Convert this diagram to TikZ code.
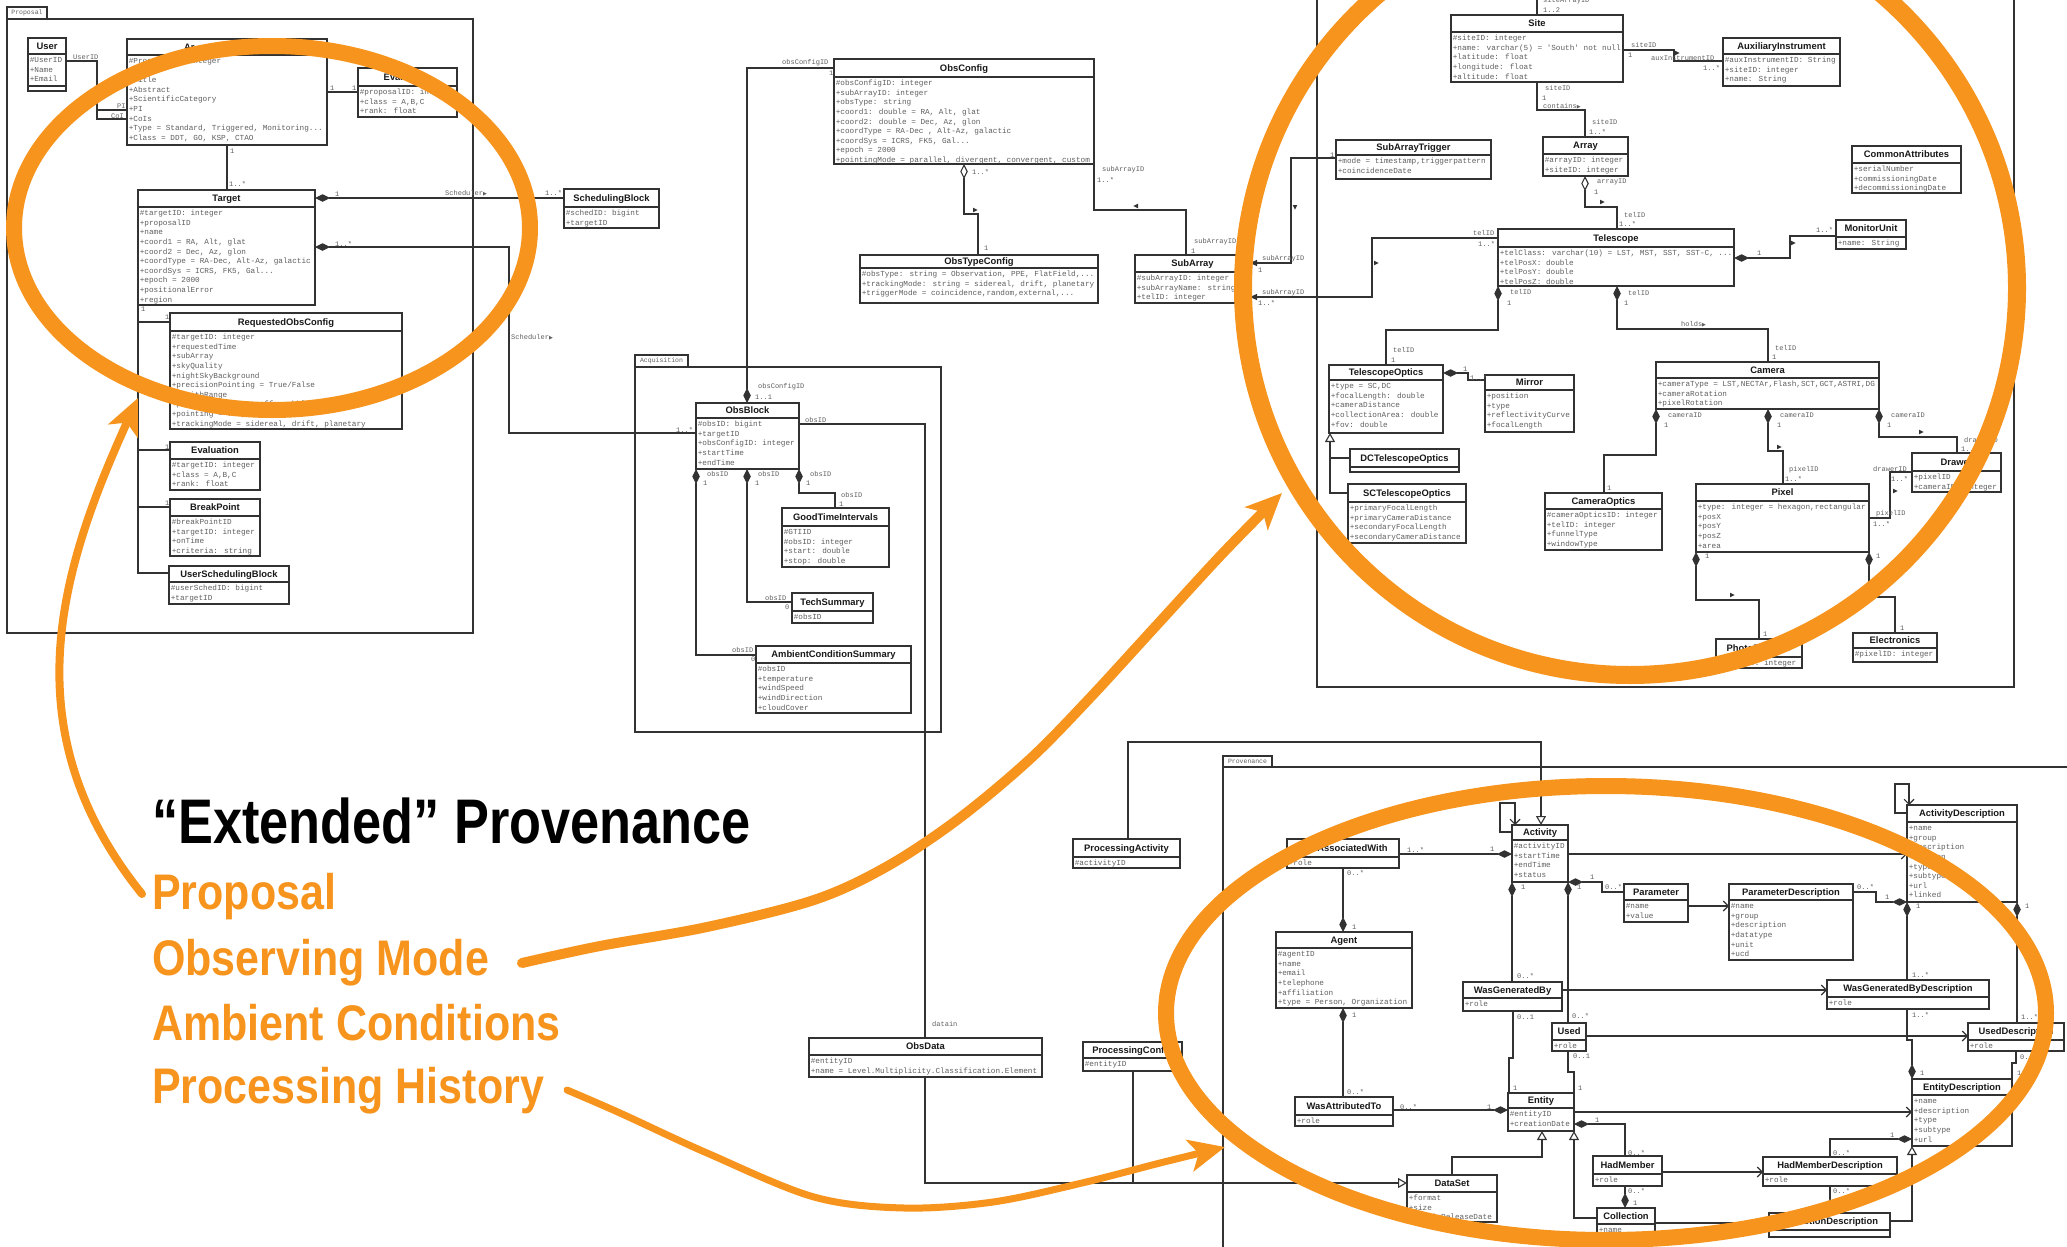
\documentclass[tikz,border=0pt]{standalone}
\usepackage{fontspec}
\usetikzlibrary{arrows.meta,calc}
\newfontfamily\clsfont{Liberation Sans}
\newfontfamily\attfont{Liberation Mono}
\newfontfamily\headfont[FakeStretch=0.83]{Liberation Sans}
\newfontfamily\notefont[FakeStretch=0.86]{Liberation Sans}
\newfontfamily\glyphfont{DejaVu Sans}
\definecolor{hilite}{RGB}{247,148,29}
\definecolor{umlline}{RGB}{50,50,50}
\definecolor{umltext}{RGB}{95,95,95}

\newcommand\navglyph{{\glyphfont\fontsize{5}{5}\selectfont ▶}}
\newcommand\ddd{.\kern0pt.\kern0pt.}
\newcount\labno
\newcommand\lab[3]{\global\advance\labno by 1\relax
  \node[lab] (lab\the\labno) at (#1,#2) {#3};}
% small association-direction markers
\newcommand\mkR[2]{\fill[umlline] (#1+2.6,#2) -- (#1-2,#2-2.3) -- (#1-2,#2+2.3) -- cycle;}
\newcommand\mkL[2]{\fill[umlline] (#1-2.6,#2) -- (#1+2,#2-2.3) -- (#1+2,#2+2.3) -- cycle;}
\newcommand\mkD[2]{\fill[umlline] (#1,#2+2.6) -- (#1-2.3,#2-2) -- (#1+2.3,#2-2) -- cycle;}
% UML class: name, x1, y1, x2, y2, y of title rule, title, attributes
\newcommand\uclass[8]{%
  \node[classbox, minimum width={(#4)-(#2)}, minimum height={(#5)-(#3)}] (#1) at ({((#2)+(#4))/2},{((#3)+(#5))/2}) {};
  \draw[boxline] (#1.west |- 0,#6) -- (#1.east |- 0,#6);
  \node[ctitle] (#1-t) at ({((#2)+(#4))/2},{((#3)+(#6))/2+3.4}) {#7};
  \foreach \a [count=\i] in {#8} {\node[attr] (#1-a\i) at ({(#2)+1.6},{(#6)+8.6+(\i-1)*9.6}) {\a};}%
}

\tikzset{
  classbox/.style={draw=umlline, line width=1.3pt, fill=white, rectangle, inner sep=0pt, outer sep=0pt},
  boxline/.style={draw=umlline, line width=1.2pt},
  ctitle/.style={font=\clsfont\bfseries\fontsize{9.4}{10}\selectfont, text=black!90, inner sep=0pt, anchor=base},
  attr/.style={font=\attfont\fontsize{7.7}{8}\selectfont, text=umltext, inner sep=0pt, anchor=base west},
  lab/.style={font=\attfont\fontsize{7}{7}\selectfont, text=umltext, inner sep=0pt, anchor=west},
  tabtext/.style={font=\attfont\fontsize{6.5}{6.5}\selectfont, text=umltext, inner sep=0pt},
  conn/.style={draw=umlline, line width=1.1pt},
  pkg/.style={draw=umlline, line width=1.2pt},
  ring/.style={draw=hilite, line width=16pt},
  hlarrow/.style={draw=hilite, line cap=round, -{Stealth[length=36pt,width=32pt,inset=9pt]}},
  note/.style={anchor=base west, inner sep=0pt, text=hilite, font=\notefont\bfseries\fontsize{50}{50}\selectfont},
  compo/.tip={Diamond[length=15pt,width=7.5pt]},
  aggr/.tip={Diamond[open,length=15pt,width=7.5pt]},
  genz/.tip={Triangle[open,length=9pt,width=10pt]},
  navi/.tip={Straight Barb[length=5pt,width=10pt]},
  navhead/.tip={Triangle[length=7pt,width=6pt]},
}

\begin{document}
\begin{tikzpicture}[x=1pt,y=-1pt]
\useasboundingbox (0,0) rectangle (2067,1247);
\fill[white] (0,0) rectangle (2067,1247);
\clip (0,0) rectangle (2067,1247);

% ---------- packages ----------
\draw[pkg] (7,7) rectangle (47,19);
\node[tabtext] (pkgProposal) at (27,13) {Proposal};
\draw[pkg] (7,19) rectangle (473,633);
\draw[pkg] (635,355) rectangle (688,367);
\node[tabtext] (pkgAcquisition) at (661.5,361) {Acquisition};
\draw[pkg] (635,367) rectangle (941,732);
\draw[pkg] (1317,-10) -- (1317,687) -- (2014,687) -- (2014,-10);
\draw[pkg] (1223,756) rectangle (1272,767);
\node[tabtext] (pkgProvenance) at (1247.5,761.5) {Provenance};
\draw[pkg] (2080,767) -- (1223,767) -- (1223,1260);

% ---------- classes: proposal ----------
\uclass{user}{28}{38}{66}{91}{54}{User}{\#UserID,+Name,+Email}
\draw[boxline] (user.west |- 0,86) -- (user.east |- 0,86);
\uclass{prop}{127}{39}{327}{145}{55}{}{\#ProposalID: integer,+,+Title,+Abstract,+ScientificCategory,+PI,+CoIs,{+Type = Standard, Triggered, Monitoring\ddd},{+Class = DDT, GO, KSP, CTAO}}
\node[ctitle, anchor=base west] (propname) at (184,50.5) {Ar};
\uclass{evalA}{358}{68}{457}{117}{86}{Evaluation}{\#proposalID: integer,{+class = A,B,C},+rank: float}
\uclass{target}{138}{190}{315}{305}{207}{Target}{\#targetID: integer,+proposalID,+name,{+coord1 = RA, Alt, glat},{+coord2 = Dec, Az, glon},{+coordType = RA-Dec, Alt-Az, galactic},{+coordSys = ICRS, FK5, Gal\ddd},+epoch = 2000,+positionalError,+region}
\uclass{reqobs}{170}{313}{402}{429}{331}{RequestedObsConfig}{\#targetID: integer,+requestedTime,+subArray,+skyQuality,+nightSkyBackground,+precisionPointing = True/False,+zenithRange,{+pointingMode = on-off, wobble, survey\ddd},{+pointing = \ddd, target\ddd},{+trackingMode = sidereal, drift, planetary}}
\uclass{evalB}{170}{442}{260}{490}{459}{Evaluation}{\#targetID: integer,{+class = A,B,C},+rank: float}
\uclass{breakpt}{170}{499}{260}{556}{516}{BreakPoint}{\#breakPointID,+targetID: integer,+onTime,+criteria: string}
\uclass{usersb}{169}{566}{289}{604}{582}{UserSchedulingBlock}{\#userSchedID: bigint,+targetID}
\uclass{schedblk}{564}{189}{659}{228}{207}{SchedulingBlock}{\#schedID: bigint,+targetID}

% ---------- classes: configuration and acquisition ----------
\uclass{obsconfig}{834}{59}{1094}{164}{77}{ObsConfig}{\#obsConfigID: integer,+subArrayID: integer,+obsType: string,{+coord1: double = RA, Alt, glat},{+coord2: double = Dec, Az, glon},{+coordType = RA-Dec , Alt-Az, galactic},{+coordSys = ICRS, FK5, Gal\ddd},+epoch = 2000,{+pointingMode = parallel, divergent, convergent, custom}}
\uclass{obstype}{860}{255}{1098}{303}{268}{ObsTypeConfig}{{\#obsType: string = Observation, PPE, FlatField,\ddd},{+trackingMode: string = sidereal, drift, planetary},{+triggerMode = coincidence,random,external,\ddd}}
\uclass{subarray}{1135}{255}{1250}{303}{272}{SubArray}{\#subArrayID: integer,+subArrayName: string,+telID: integer}
\uclass{obsblock}{696}{403}{799}{469}{418}{ObsBlock}{\#obsID: bigint,+targetID,+obsConfigID: integer,+startTime,+endTime}
\uclass{gti}{782}{508}{889}{567}{526}{GoodTimeIntervals}{\#GTIID,\#obsID: integer,+start: double,+stop: double}
\uclass{techsum}{792}{593}{873}{623}{611}{TechSummary}{\#obsID}
\uclass{ambient}{756}{646}{911}{713}{663}{AmbientConditionSummary}{\#obsID,+temperature,+windSpeed,+windDirection,+cloudCover}
\uclass{obsdata}{809}{1038}{1042}{1077}{1055}{ObsData}{\#entityID,+name = Level.Multiplicity.Classification.Element}
\uclass{procact}{1073}{839}{1180}{868}{857}{ProcessingActivity}{\#activityID}
\uclass{proccfg}{1083}{1042}{1182}{1071}{1058}{ProcessingConfig}{\#entityID}

% ---------- classes: telescope ----------
\uclass{site}{1451}{15}{1623}{82}{32}{Site}{\#siteID: integer,{+name: varchar(5) = 'South' not null},+latitude: float,+longitude: float,+altitude: float}
\uclass{auxinst}{1723}{38}{1840}{86}{54}{AuxiliaryInstrument}{\#auxInstrumentID: String,+siteID: integer,+name: String}
\uclass{subtrig}{1336}{140}{1491}{179}{155}{SubArrayTrigger}{{+mode = timestamp,triggerpattern},+coincidenceDate}
\uclass{array}{1543}{137}{1628}{176}{154}{Array}{\#arrayID: integer,+siteID: integer}
\uclass{common}{1852}{146}{1961}{193}{163}{CommonAttributes}{+serialNumber,+commissioningDate,+decommissioningDate}
\uclass{telescope}{1498}{229}{1734}{286}{247}{Telescope}{{+telClass: varchar(10) = LST, MST, SST, SST-C, \ddd},+telPosX: double,+telPosY: double,+telPosZ: double}
\uclass{monitor}{1836}{220}{1906}{249}{237}{MonitorUnit}{+name: String}
\uclass{telopt}{1329}{365}{1443}{433}{380}{TelescopeOptics}{{+type = SC,DC},+focalLength: double,+cameraDistance,+collectionArea: double,+fov: double}
\uclass{mirror}{1485}{375}{1574}{432}{390}{Mirror}{+position,+type,+reflectivityCurve,+focalLength}
\uclass{dcopt}{1350}{449}{1459}{472}{467}{DCTelescopeOptics}{}
\uclass{scopt}{1348}{484}{1466}{543}{502}{SCTelescopeOptics}{+primaryFocalLength,+primaryCameraDistance,+secondaryFocalLength,+secondaryCameraDistance}
\uclass{camera}{1656}{362}{1879}{409}{378}{Camera}{{+cameraType = LST,NECTAr,Flash,SCT,GCT,ASTRI,DG},+cameraRotation,+pixelRotation}
\uclass{camopt}{1545}{493}{1662}{550}{509}{CameraOptics}{\#cameraOpticsID: integer,+telID: integer,+funnelType,+windowType}
\uclass{pixel}{1696}{484}{1869}{552}{501}{Pixel}{{+type: integer = hexagon,rectangular},+posX,+posY,+posZ,+area}
\uclass{drawer}{1912}{453}{2001}{492}{471}{Drawer}{+pixelID,+cameraID: integer}
\uclass{photodet}{1716}{639}{1802}{668}{657}{PhotoDetector}{\#pixelID: integer}
\uclass{electronics}{1853}{633}{1937}{662}{648}{Electronics}{\#pixelID: integer}

% ---------- classes: provenance ----------
\uclass{activity}{1512}{825}{1568}{882}{840}{Activity}{\#activityID,+startTime,+endTime,+status}
\uclass{wasassoc}{1287}{839}{1399}{868}{857}{WasAssociatedWith}{+role}
\uclass{agent}{1276}{932}{1412}{1008}{948}{Agent}{\#agentID,+name,+email,+telephone,+affiliation,{+type = Person, Organization}}
\uclass{wasattr}{1295}{1097}{1393}{1126}{1115}{WasAttributedTo}{+role}
\uclass{wasgen}{1463}{982}{1562}{1011}{998}{WasGeneratedBy}{+role}
\uclass{used}{1552}{1023}{1586}{1051}{1040}{Used}{+role}
\uclass{entity}{1508}{1093}{1574}{1131}{1108}{Entity}{\#entityID,+creationDate}
\uclass{dataset}{1407}{1175}{1497}{1222}{1192}{DataSet}{+format,+size,+publicReleaseDate}
\uclass{collection}{1597}{1208}{1655}{1240}{1224}{Collection}{+name}
\uclass{hadmember}{1593}{1156}{1662}{1186}{1174}{HadMember}{+role}
\uclass{parameter}{1624}{884}{1688}{922}{900}{Parameter}{\#name,+value}
\uclass{paramdesc}{1729}{884}{1853}{960}{900}{ParameterDescription}{\#name,+group,+description,+datatype,+unit,+ucd}
\uclass{actdesc}{1907}{805}{2017}{902}{822}{ActivityDescription}{+name,+group,+description,+version,+type,+subtype,+url,+linked}
\uclass{wasgendesc}{1827}{980}{1989}{1009}{997}{WasGeneratedByDescription}{+role}
\uclass{useddesc}{1968}{1023}{2064}{1051}{1040}{UsedDescription}{+role}
\uclass{entdesc}{1912}{1079}{2012}{1146}{1095}{EntityDescription}{+name,+description,+type,+subtype,+url}
\uclass{hmdesc}{1763}{1157}{1897}{1186}{1174}{HadMemberDescription}{+role}
\uclass{colldesc}{1769}{1213}{1890}{1237}{1230}{CollectionDescription}{}

% ---------- connectors: proposal ----------
\coordinate (uj) at (97,110);
\draw[conn] (user.east |- 0,61) -- (97,61) -- (97,119) -- (prop.west |- 0,119);
\draw[conn] (uj) -- (prop.west |- uj);
\draw[conn] (prop.east |- 0,92) -- (evalA.west |- 0,92);
\draw[conn] (prop.south -| 227,0) -- (target.north -| 227,0);
\draw[conn, compo-] (target.east |- 0,198) -- (schedblk.west |- 0,198);
\draw[conn, compo-] (target.east |- 0,247) -- (509,247) -- (509,433) -- (obsblock.west |- 0,433);
\draw[conn] (target.south west) -- (138,573) -- (usersb.west |- 0,573);
\coordinate (tjA) at (138,322); \draw[conn] (tjA) -- (reqobs.west |- tjA);
\coordinate (tjB) at (138,450); \draw[conn] (tjB) -- (evalB.west |- tjB);
\coordinate (tjC) at (138,507); \draw[conn] (tjC) -- (breakpt.west |- tjC);

% ---------- connectors: configuration and acquisition ----------
\draw[conn, -compo] (obsconfig.west |- 0,68) -- (747,68) -- (obsblock.north -| 747,0);
\draw[conn, aggr-] (obsconfig.south -| 964,0) -- (964,214) -- (978,214) -- (obstype.north -| 978,0);
\draw[conn] (obsconfig.south east) -- (1094,210) -- (1186,210) -- (subarray.north -| 1186,0);
\draw[conn, navhead-] (subarray.east |- 0,263) -- (1291,263) -- (1291,158) -- (subtrig.west |- 0,158);
\draw[conn, navhead-] (subarray.east |- 0,297) -- (1372,297) -- (1372,238) -- (telescope.west |- 0,238);
\draw[conn, compo-] (obsblock.south east) -- (799,493) -- (835,493) -- (gti.north -| 835,0);
\draw[conn, compo-] (obsblock.south -| 747,0) -- (747,602) -- (techsum.west |- 0,602);
\draw[conn, compo-] (obsblock.south west) -- (696,655) -- (ambient.west |- 0,655);
\draw[conn] (obsblock.east |- 0,424) -- (925,424) -- (obsdata.north -| 925,0);
\draw[conn, -genz] (obsdata.south -| 925,0) -- (925,1183) -- (dataset.west |- 0,1183);
\coordinate (pcj) at (1133,1183);
\draw[conn] (proccfg.south -| 1133,0) -- (pcj);
\draw[conn, -genz] (procact.north -| 1128,0) -- (1128,742) -- (1541,742) -- (activity.north -| 1541,0);

% ---------- connectors: telescope ----------
\draw[conn] (site.east |- 0,50) -- (1674,50) -- (1674,61) -- (auxinst.west |- 0,61);
\draw[conn] (site.south -| 1537,0) -- (1537,110) -- (1585,110) -- (array.north -| 1585,0);
\coordinate (siteup) at (1537,-6);
\draw[conn] (site.north -| 1537,0) -- (siteup);
\draw[conn, aggr-] (array.south -| 1585,0) -- (1585,207) -- (1617,207) -- (telescope.north -| 1617,0);
\draw[conn, compo-] (telescope.east |- 0,258) -- (1790,258) -- (1790,236) -- (monitor.west |- 0,236);
\draw[conn, compo-] (telescope.south -| 1617,0) -- (1617,329) -- (1768,329) -- (camera.north -| 1768,0);
\draw[conn, compo-] (telescope.south west) -- (1498,330) -- (1386,330) -- (telopt.north -| 1386,0);
\draw[conn, compo-] (telopt.east |- 0,373) -- (1468,373) -- (1468,380) -- (mirror.west |- 0,380);
\draw[conn, -genz] (scopt.west |- 0,493) -- (1330,493) -- (telopt.south -| 1330,0);
\draw[conn] (dcopt.west |- 0,458) -- (1330,458);
\draw[conn, compo-] (camera.south west) -- (1656,455) -- (1604,455) -- (camopt.north -| 1604,0);
\draw[conn, compo-] (camera.south -| 1768,0) -- (1768,451) -- (1783,451) -- (pixel.north -| 1783,0);
\draw[conn, compo-] (camera.south east) -- (1879,437) -- (1957,437) -- (drawer.north -| 1957,0);
\draw[conn] (pixel.east |- 0,518) -- (1890,518) -- (1890,472) -- (drawer.west |- 0,472);
\draw[conn, compo-] (pixel.south west) -- (1696,600) -- (1759,600) -- (photodet.north -| 1759,0);
\draw[conn, compo-] (pixel.south east) -- (1869,597) -- (1895,597) -- (electronics.north -| 1895,0);

% ---------- connectors: provenance ----------
\draw[conn, -navi] (activity.west |- 0,832) -- (1500,832) -- (1500,803) -- (1515,803) -- (activity.north -| 1515,0);
\draw[conn, -compo] (wasassoc.east |- 0,854) -- (activity.west |- 0,854);
\draw[conn, -compo] (wasassoc.south -| 1343,0) -- (agent.north -| 1343,0);
\draw[conn, compo-] (agent.south -| 1343,0) -- (wasattr.north -| 1343,0);
\draw[conn, -compo] (wasattr.east |- 0,1110) -- (entity.west |- 0,1110);
\draw[conn, compo-] (activity.south west) -- (wasgen.north -| 1512,0);
\draw[conn, compo-] (activity.south east) -- (used.north -| 1568,0);
\draw[conn] (wasgen.south -| 1513,0) -- (1513,1058) -- (1509,1058) -- (entity.north -| 1509,0);
\draw[conn] (used.south -| 1568,0) -- (1568,1072) -- (1574,1072) -- (entity.north east);
\draw[conn, -navi] (wasgen.east |- 0,990) -- (wasgendesc.west |- 0,990);
\draw[conn, -navi] (used.east |- 0,1036) -- (useddesc.west |- 0,1036);
\draw[conn, -navi] (activity.east |- 0,854) -- (actdesc.west |- 0,854);
\draw[conn, compo-] (activity.south east) -- (1602,882) -- (1602,892) -- (parameter.west |- 0,892);
\draw[conn, -navi] (parameter.east |- 0,906) -- (paramdesc.west |- 0,906);
\draw[conn, -compo] (paramdesc.east |- 0,892) -- (1876,892) -- (1876,902) -- (actdesc.south west);
\draw[conn, compo-] (actdesc.south west) -- (wasgendesc.north -| 1907,0);
\draw[conn, compo-] (actdesc.south east) -- (useddesc.north -| 2017,0);
\draw[conn, -navi] (actdesc.west |- 0,813) -- (1895,813) -- (1895,784) -- (1909,784) -- (actdesc.north -| 1909,0);
\draw[conn, -compo] (wasgendesc.south -| 1907,0) -- (1907,1040) -- (1912,1040) -- (entdesc.north west);
\draw[conn] (useddesc.south -| 2016,0) -- (2016,1063) -- (2012,1063) -- (entdesc.north east);
\draw[conn, -navi] (entity.east |- 0,1112) -- (entdesc.west |- 0,1112);
\draw[conn, compo-] (entity.east |- 0,1124) -- (1625,1124) -- (hadmember.north -| 1625,0);
\draw[conn, -compo] (hadmember.south -| 1625,0) -- (collection.north -| 1625,0);
\draw[conn, -navi] (hadmember.east |- 0,1172) -- (hmdesc.west |- 0,1172);
\draw[conn, -navi] (collection.east |- 0,1223) -- (colldesc.west |- 0,1223);
\draw[conn, compo-] (entdesc.west |- 0,1139) -- (1830,1139) -- (hmdesc.north -| 1830,0);
\draw[conn, -compo] (hmdesc.south -| 1830,0) -- (colldesc.north -| 1830,0);
\draw[conn, -genz] (colldesc.east |- 0,1221) -- (1912,1221) -- (entdesc.south west);
\draw[conn, -genz] (dataset.north -| 1452,0) -- (1452,1157) -- (1542,1157) -- (entity.south -| 1542,0);
\draw[conn, -genz] (collection.west |- 0,1218) -- (1574,1218) -- (entity.south east);

% ---------- direction markers ----------
\mkR{975}{210} \mkL{1136}{206} \mkD{1295}{207} \mkR{1376}{263}
\mkR{1677}{53} \mkR{1602}{202} \mkR{1793}{243} \mkR{1779}{447}
\mkR{1921}{432} \mkR{1895}{491} \mkR{1732}{595}

% ---------- role and multiplicity labels ----------
\lab{73}{57}{UserID} \lab{117}{106}{PI} \lab{111}{116}{CoI}
\lab{330}{88}{1} \lab{352}{88}{1}
\lab{230}{151}{1} \lab{229}{184}{1..*}
\lab{335}{194}{1} \lab{445}{193}{Scheduler\navglyph} \lab{545}{193}{1..*}
\lab{335}{244}{1..*} \lab{511}{337}{Scheduler\navglyph} \lab{676}{430}{1..*}
\lab{141}{309}{1} \lab{165}{317}{1} \lab{165}{447}{1} \lab{165}{503}{1}
\lab{782}{63}{obsConfigID} \lab{829}{73}{1}
\lab{758}{387}{obsConfigID} \lab{755}{397}{1..1}
\lab{972}{172}{1..*} \lab{984}{248}{1}
\lab{1102}{170}{subArrayID} \lab{1097}{180}{1..*}
\lab{1194}{242}{subArrayID} \lab{1191}{251}{1}
\lab{805}{420}{obsID}
\lab{707}{474}{obsID} \lab{703}{483}{1}
\lab{758}{474}{obsID} \lab{755}{483}{1}
\lab{810}{474}{obsID} \lab{806}{483}{1}
\lab{841}{495}{obsID} \lab{839}{504}{1}
\lab{765}{598}{obsID} \lab{785}{607}{0}
\lab{732}{650}{obsID} \lab{751}{659}{0}
\lab{932}{1024}{datain}
\lab{1543}{1}{siteArrayID} \lab{1543}{10}{1..2}
\lab{1631}{45}{siteID} \lab{1628}{55}{1}
\lab{1651}{58}{auxInstrumentID} \lab{1703}{68}{1..*}
\lab{1545}{88}{siteID} \lab{1542}{98}{1} \lab{1543}{106}{contains\navglyph}
\lab{1592}{122}{siteID} \lab{1589}{132}{1..*}
\lab{1330}{155}{1}
\lab{1262}{259}{subArrayID} \lab{1258}{270}{1}
\lab{1262}{293}{subArrayID} \lab{1258}{303}{1..*}
\lab{1473}{233}{telID} \lab{1478}{244}{1..*}
\lab{1597}{182}{arrayID} \lab{1594}{192}{1}
\lab{1624}{215}{telID} \lab{1619}{224}{1..*}
\lab{1757}{253}{1} \lab{1816}{230}{1..*}
\lab{1628}{293}{telID} \lab{1624}{303}{1}
\lab{1681}{324}{holds\navglyph}
\lab{1775}{348}{telID} \lab{1772}{357}{1}
\lab{1510}{292}{telID} \lab{1507}{303}{1}
\lab{1393}{350}{telID} \lab{1391}{360}{1}
\lab{1463}{369}{1} \lab{1470}{378}{1..*}
\lab{1668}{415}{cameraID} \lab{1664}{425}{1}
\lab{1780}{415}{cameraID} \lab{1777}{425}{1}
\lab{1891}{415}{cameraID} \lab{1887}{425}{1}
\lab{1607}{488}{1}
\lab{1789}{470}{pixelID} \lab{1785}{479}{1..*}
\lab{1964}{440}{drawerID} \lab{1961}{449}{1..*}
\lab{1873}{469}{drawerID} \lab{1891}{479}{1..*}
\lab{1876}{514}{pixelID} \lab{1873}{524}{1..*}
\lab{1705}{556}{1} \lab{1876}{556}{1}
\lab{1763}{634}{1} \lab{1900}{628}{1}
\lab{1407}{850}{1..*} \lab{1490}{849}{1}
\lab{1347}{873}{0..*} \lab{1352}{927}{1}
\lab{1352}{1015}{1} \lab{1347}{1092}{0..*}
\lab{1400}{1107}{0..*} \lab{1487}{1107}{1}
\lab{1521}{887}{1} \lab{1577}{887}{1}
\lab{1517}{976}{0..*}
\lab{1517}{1017}{0..1} \lab{1513}{1088}{1}
\lab{1572}{1016}{0..*}
\lab{1573}{1056}{0..1} \lab{1578}{1088}{1}
\lab{1590}{877}{1} \lab{1605}{887}{0..*}
\lab{1595}{1120}{1}
\lab{1628}{1153}{0..*}
\lab{1628}{1191}{0..*} \lab{1633}{1203}{1}
\lab{1857}{887}{0..*} \lab{1885}{897}{1}
\lab{1916}{906}{1} \lab{2025}{906}{1}
\lab{1912}{975}{1..*}
\lab{1912}{1015}{1..*} \lab{1920}{1073}{1}
\lab{2021}{1017}{1..*}
\lab{2020}{1057}{0..1} \lab{2017}{1073}{1}
\lab{1890}{1135}{1} \lab{1833}{1153}{0..*}
\lab{1833}{1191}{0..*}

% ---------- highlight rings ----------
\draw[ring] (272,228) ellipse [x radius=258pt, y radius=182pt];
\draw[ring, line width=18pt] (1630,288) circle [radius=387pt];
\draw[ring] (1606,1013) ellipse [x radius=440pt, y radius=227pt];

% ---------- headline and topics ----------
\node[anchor=base west, inner sep=0pt, font=\headfont\bfseries\fontsize{63}{63}\selectfont] (headline) at (152,843) {“Extended” Provenance};
\node[note] (wProposal) at (152,909) {Proposal};
\node[note] (wObserving) at (152,975) {Observing Mode};
\node[note] (wAmbient) at (152,1040) {Ambient Conditions};
\node[note] (wProcessing) at (152,1103) {Processing History};

% ---------- pointer arrows ----------
\coordinate (aStart) at (142,894);
\coordinate (tipA) at (138,398);
\coordinate (bStart) at (522,963);
\coordinate (tipB) at (1282,493);
\coordinate (cStart) at (567,1090);
\coordinate (tipC) at (1225,1147);
\draw[hlarrow, line width=8pt] (aStart) .. controls (10,730) and (60,570) .. (tipA);
\draw[hlarrow, line width=10pt] plot[smooth, tension=0.55] coordinates {(bStart) (600,946) (707,927) (814,900) (886,867) (957,820) (1029,760) (1088,700) (1155,627) (1223,553) (tipB)};
\draw[hlarrow, line width=7pt] plot[smooth, tension=0.55] coordinates {(cStart) (620,1113) (707,1153) (814,1197) (904,1208) (993,1202) (1082,1183) (1160,1163) (tipC)};
\end{tikzpicture}
\end{document}
